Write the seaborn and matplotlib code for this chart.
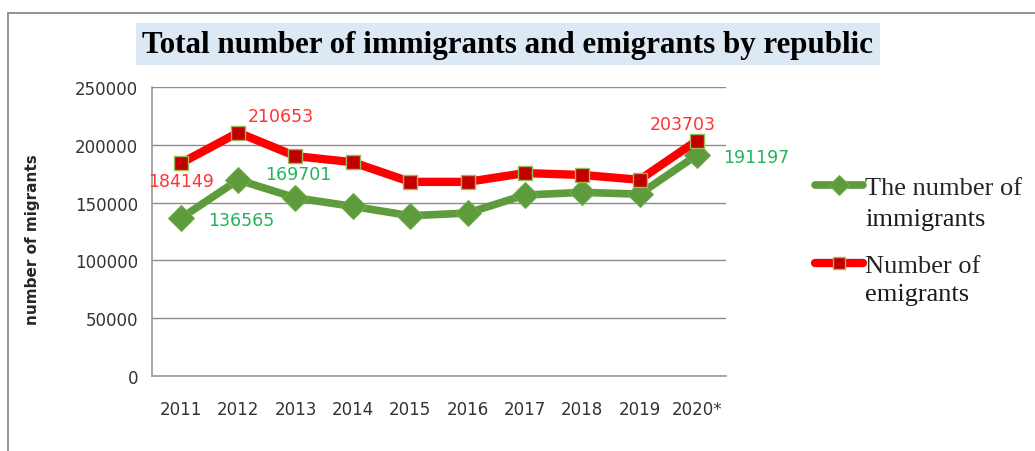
import matplotlib
matplotlib.use("Agg")
import matplotlib.pyplot as plt
from matplotlib.lines import Line2D
import seaborn as sns

years = ["2011", "2012", "2013", "2014", "2015", "2016", "2017", "2018", "2019", "2020*"]
immigrants = [136565, 169701, 154200, 146800, 138700, 141000, 156600, 158900, 157400, 191197]
emigrants = [184149, 210653, 190300, 185000, 168000, 168000, 175600, 174000, 169800, 203703]

sns.set_style("white")
plt.rcParams["font.family"] = ["DejaVu Sans"]

fig = plt.figure(figsize=(10.35, 4.52), dpi=100)
ax = fig.add_axes([0.147, 0.166, 0.554, 0.639])

green = "#5e9b3c"
red = "#ff0000"

sns.lineplot(x=years, y=immigrants, ax=ax, color=green, linewidth=5.5,
             marker="D", markersize=13, markerfacecolor=green,
             markeredgecolor="#6fae4a", sort=False, label="The number of")
sns.lineplot(x=years, y=emigrants, ax=ax, color=red, linewidth=6,
             marker="s", markersize=10, markerfacecolor="#c00000",
             markeredgecolor="#9bbb59", markeredgewidth=1, sort=False,
             label="Number of")

ax.set_ylim(0, 250000)
ax.set_xlim(-0.5, len(years) - 0.5)
ax.set_yticks(range(0, 250001, 50000))
ax.yaxis.grid(True, color="#8c8c8c", linewidth=1)
ax.set_axisbelow(True)
for s in ["top", "right"]:
    ax.spines[s].set_visible(False)
for s in ["left", "bottom"]:
    ax.spines[s].set_color("#9a9a9a")
    ax.spines[s].set_linewidth(1.2)
ax.tick_params(axis="y", length=0, pad=10, labelsize=12, labelcolor="#333333")
ax.tick_params(axis="x", length=0, pad=17, labelsize=12, labelcolor="#333333")
ax.set_xlabel("")
ax.set_ylabel("number of migrants", fontsize=11, fontweight="bold")
ax.yaxis.set_label_coords(-0.195, 0.474)

# data labels (offsets in pixels)
green_txt = "#22b35a"
red_txt = "#ff3333"
lab = dict(textcoords="offset pixels", fontsize=12.5, ha="center", va="center")
ax.annotate(f"{immigrants[0]}", (0, immigrants[0]), xytext=(60, -2), color=green_txt, **lab)
ax.annotate(f"{immigrants[1]}", (1, immigrants[1]), xytext=(60, 6), color=green_txt, **lab)
ax.annotate(f"{immigrants[9]}", (9, immigrants[9]), xytext=(59, -2), color=green_txt, **lab)
ax.annotate(f"{emigrants[0]}", (0, emigrants[0]), xytext=(0, -18), color=red_txt, **lab)
ax.annotate(f"{emigrants[1]}", (1, emigrants[1]), xytext=(43, 17), color=red_txt, **lab)
ax.annotate(f"{emigrants[9]}", (9, emigrants[9]), xytext=(-14, 17), color=red_txt, **lab)

serif = "Liberation Serif"
leg = ax.legend(loc="upper left", bbox_to_anchor=(815 / 1035, 1 - 177 / 452),
                bbox_transform=fig.transFigure, frameon=False, borderpad=0,
                borderaxespad=0, markerscale=0.8,
                handlelength=1.8, handletextpad=0.1, labelspacing=2.05,
                prop={"family": serif, "size": 19})
fig.text(865 / 1035, 1 - 226 / 452, "immigrants", family=serif, fontsize=19,
         ha="left", va="baseline", color="#1a1a1a")
fig.text(865 / 1035, 1 - 301 / 452, "emigrants", family=serif, fontsize=19,
         ha="left", va="baseline", color="#1a1a1a")

fig.text(508 / 1035, 1 - 45 / 452, "Total number of immigrants and emigrants by republic",
         ha="center", va="center", family=serif, fontweight="bold",
         fontsize=22.3, color="black",
         bbox=dict(boxstyle="square,pad=0.2", facecolor="#dde8f5", edgecolor="none"))

# outer frame of the chart area
fig.add_artist(Line2D([8 / 1035, 1], [1 - 14 / 452, 1 - 14 / 452], color="#8a8a8a", linewidth=1.3))
fig.add_artist(Line2D([8 / 1035, 8 / 1035], [0, 1 - 14 / 452], color="#8a8a8a", linewidth=1.3))

fig.savefig("out.png", dpi=100)
